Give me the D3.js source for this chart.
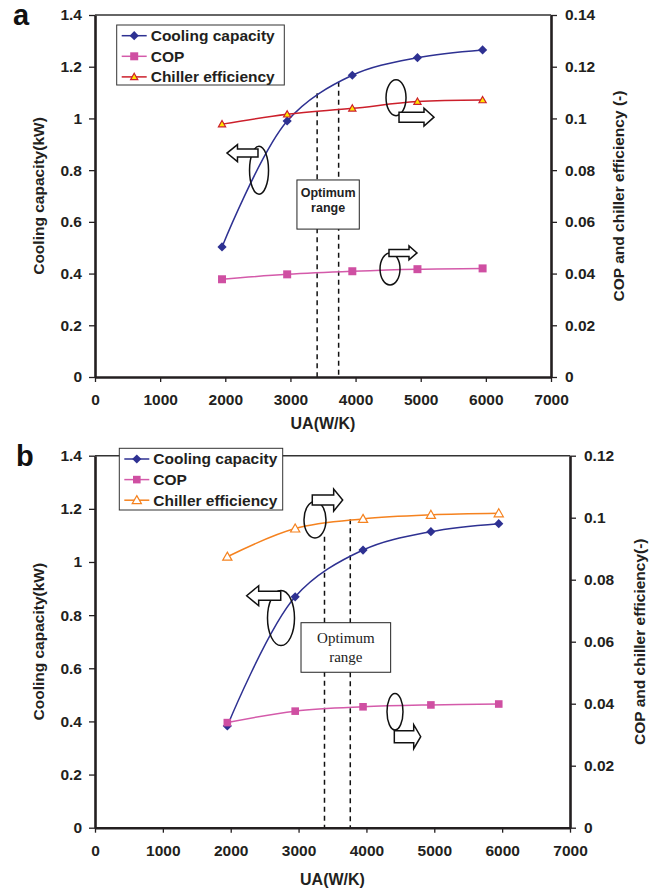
<!DOCTYPE html>
<html>
<head>
<meta charset="utf-8">
<script src="https://cdn.jsdelivr.net/npm/d3@7"></script>
<style>
  body { margin: 0; background: #fff; }
  text { font-family: "Liberation Sans", Arial, sans-serif; }
</style>
</head>
<body>
<svg id="chart" width="657" height="891"></svg>
<script>
// UA values (W/K) shared by both panels
const ua = [1950, 2950, 3950, 4950, 5950]

// panel a
const capA = [0.503, 0.99, 1.167, 1.235, 1.265]
const copA = [0.0378, 0.0397, 0.0409, 0.0417, 0.042]
const effA = [0.0978, 0.1016, 0.1039, 0.1065, 0.1071]

// panel b
const capB = [0.383, 0.869, 1.045, 1.114, 1.144]
const copB = [0.0339, 0.0376, 0.039, 0.0396, 0.0399]
const effB = [0.0874, 0.0965, 0.0996, 0.1009, 0.1014]

const xTicks = [0, 1000, 2000, 3000, 4000, 5000, 6000, 7000]
const leftTicks = [0, 0.2, 0.4, 0.6, 0.8, 1, 1.2, 1.4]
const rightTicksA = [0, 0.02, 0.04, 0.06, 0.08, 0.1, 0.12, 0.14]
const rightTicksB = [0, 0.02, 0.04, 0.06, 0.08, 0.1, 0.12]
const seriesNames = ["Cooling capacity", "COP", "Chiller efficiency"]

// optimum range markers: UA and top of dashed line (kW scale)
const optUA_A = [3410, 3740], optTop_A = [1.097, 1.142]
const optUA_B = [3382, 3762], optTop_B = [1.095, 1.161]

const svg = d3.select("#chart")
const fmt = d => String(+d.toFixed(2))
const axisColor = "#231f20"

const diamond = r => `M0,${-r}L${r},0L0,${r}L${-r},0Z`
const square = r => `M${-r},${-r}H${r}V${r}H${-r}Z`
const triangle = r => `M0,${-r}L${r},${r * 0.75}L${-r},${r * 0.75}Z`

function arrowPath(x0, x1, y, sh, hh, hl) {
  const dir = Math.sign(x1 - x0)
  const xb = x1 - dir * hl
  return `M${x0},${y - sh}L${xb},${y - sh}L${xb},${y - hh}L${x1},${y}` +
    `L${xb},${y + hh}L${xb},${y + sh}L${x0},${y + sh}Z`
}

function drawPanel(cfg) {
  const x = d3.scaleLinear().domain([0, 7000]).range([cfg.left, cfg.right])
  const y = d3.scaleLinear().domain([0, 1.4]).range([cfg.bottom, cfg.top])
  const y2 = d3.scaleLinear().domain([0, cfg.rightMax]).range([cfg.bottom, cfg.top])
  const g = svg.append("g")

  // panel letter
  g.append("text").attr("x", cfg.labelX).attr("y", cfg.labelY)
    .attr("font-size", 29).attr("font-weight", "bold").attr("fill", "#111")
    .text(cfg.label)

  // top frame line
  g.append("line").attr("x1", cfg.left).attr("x2", cfg.right)
    .attr("y1", cfg.top).attr("y2", cfg.top)
    .attr("stroke", "#333").attr("stroke-width", 1.5)

  // dashed optimum lines
  cfg.optUA.forEach((u, i) => {
    g.append("line").attr("x1", x(u)).attr("x2", x(u))
      .attr("y1", y(cfg.optTop[i])).attr("y2", cfg.bottom)
      .attr("stroke", "#111").attr("stroke-width", 1.5)
      .attr("stroke-dasharray", "5,4")
  })

  // optimum box
  const bx = cfg.box
  g.append("rect").attr("x", x(bx.x0)).attr("y", y(bx.y1))
    .attr("width", x(bx.x1) - x(bx.x0)).attr("height", y(bx.y0) - y(bx.y1))
    .attr("fill", "#fff").attr("stroke", "#222").attr("stroke-width", 1)
  bx.lines.forEach((t, i) => {
    g.append("text").attr("x", (x(bx.x0) + x(bx.x1)) / 2)
      .attr("y", bx.baselines[i])
      .attr("text-anchor", "middle")
      .attr("font-size", bx.fontSize).attr("font-weight", bx.weight)
      .style("font-family", bx.family).attr("fill", "#222")
      .text(t)
  })

  // axes
  const ax = g.append("g").attr("transform", `translate(0,${cfg.bottom})`)
    .call(d3.axisBottom(x).tickValues(xTicks).tickFormat(d3.format("d"))
      .tickSize(5).tickSizeOuter(0).tickPadding(12))
  const ay = g.append("g").attr("transform", `translate(${cfg.left},0)`)
    .call(d3.axisLeft(y).tickValues(leftTicks).tickFormat(fmt)
      .tickSize(6).tickSizeOuter(0).tickPadding(7))
  const ay2 = g.append("g").attr("transform", `translate(${cfg.right},0)`)
    .call(d3.axisRight(y2).tickValues(cfg.rightTicks).tickFormat(fmt)
      .tickSize(6).tickSizeOuter(0).tickPadding(8))
  ;[ax, ay, ay2].forEach(a => {
    a.select(".domain").attr("stroke", axisColor).attr("stroke-width", 2.6)
    a.selectAll(".tick line").attr("stroke", axisColor).attr("stroke-width", 1.3)
    a.selectAll(".tick text").attr("font-size", 15.5).attr("font-weight", "bold")
      .attr("fill", "#231f20").style("font-family", '"Liberation Sans", Arial, sans-serif')
  })

  // axis titles
  g.append("text").attr("x", (cfg.left + cfg.right) / 2).attr("y", cfg.xTitleY)
    .attr("text-anchor", "middle").attr("font-size", 16).attr("font-weight", "bold")
    .attr("fill", "#231f20").text("UA(W/K)")
  g.append("text")
    .attr("transform", `translate(${cfg.yTitleX},${(cfg.top + cfg.bottom) / 2}) rotate(-90)`)
    .attr("text-anchor", "middle").attr("font-size", 15.5).attr("font-weight", "bold")
    .attr("fill", "#231f20").text("Cooling capacity(kW)")
  g.append("text")
    .attr("transform", `translate(${cfg.y2TitleX},${(cfg.top + cfg.bottom) / 2}) rotate(-90)`)
    .attr("text-anchor", "middle").attr("font-size", 15.5).attr("font-weight", "bold")
    .attr("fill", "#231f20").text(cfg.y2Title)

  // series
  const series = [
    { vals: cfg.cap, scale: y, color: "#2e3192", width: 1.5, marker: diamond(4.6), fill: "#2e3192", stroke: "none" },
    { vals: cfg.cop, scale: y2, color: "#d45aaa", width: 1.5, marker: square(cfg.sq), fill: "#cf4fa2", stroke: "none" },
    { vals: cfg.eff, scale: y2, color: cfg.effColor, width: 1.5, marker: triangle(cfg.tri), fill: cfg.triFill, stroke: cfg.effColor }
  ]
  series.forEach(s => {
    const pts = ua.map((u, i) => [u, s.vals[i]])
    g.append("path").datum(pts)
      .attr("fill", "none").attr("stroke", s.color).attr("stroke-width", s.width)
      .attr("d", d3.line().x(d => x(d[0])).y(d => s.scale(d[1])).curve(d3.curveCatmullRom))
    g.selectAll(null).data(pts).enter().append("path")
      .attr("transform", d => `translate(${x(d[0])},${s.scale(d[1])})`)
      .attr("d", s.marker).attr("fill", s.fill).attr("stroke", s.stroke).attr("stroke-width", 1.2)
  })

  // ellipses and arrows
  cfg.ellipses.forEach(e => {
    g.append("ellipse").attr("cx", x(e.x)).attr("cy", y(e.y)).attr("rx", e.rx).attr("ry", e.ry)
      .attr("fill", "none").attr("stroke", "#111").attr("stroke-width", 1.5)
  })
  cfg.arrows.forEach(a => {
    g.append("path").attr("d", arrowPath(x(a.from), x(a.to), y(a.y), a.sh, a.hh, a.hl))
      .attr("fill", "#fff").attr("stroke", "#111").attr("stroke-width", 1.5)
      .attr("stroke-linejoin", "miter")
  })

  // legend
  const L = cfg.legend
  const lg = g.append("g")
  lg.append("rect").attr("x", L.x).attr("y", L.y).attr("width", L.w).attr("height", L.h)
    .attr("fill", "#fff").attr("stroke", "#333").attr("stroke-width", 1)
  series.forEach((s, i) => {
    const cy = L.y + 10.7 + i * 20.6
    lg.append("line").attr("x1", L.x + 5).attr("x2", L.x + 30).attr("y1", cy).attr("y2", cy)
      .attr("stroke", s.color).attr("stroke-width", s.width)
    lg.append("path").attr("transform", `translate(${L.x + 17.5},${cy})`)
      .attr("d", s.marker).attr("fill", s.fill).attr("stroke", s.stroke).attr("stroke-width", 1.2)
    lg.append("text").attr("x", L.x + 34).attr("y", cy + 5.4)
      .attr("font-size", 15.5).attr("font-weight", "bold").attr("fill", "#231f20")
      .text(seriesNames[i])
  })
}

drawPanel({
  label: "a", labelX: 13, labelY: 25,
  left: 95, right: 551, top: 15, bottom: 377,
  rightMax: 0.14, rightTicks: rightTicksA,
  cap: capA, cop: copA, eff: effA,
  effColor: "#cc1f2b", triFill: "#ffe600", sq: 4, tri: 3.6,
  xTitleY: 429, yTitleX: 44, y2TitleX: 624,
  y2Title: "COP and chiller efficiency (-)",
  optUA: optUA_A, optTop: optTop_A,
  box: { x0: 3100, x1: 4057, y0: 0.572, y1: 0.762, lines: ["Optimum", "range"],
         baselines: [196.5, 211.5], fontSize: 12.5, weight: "bold",
         family: '"Liberation Sans", Arial, sans-serif' },
  ellipses: [
    { x: 2518, y: 0.80, rx: 9.5, ry: 24 },
    { x: 4621, y: 1.080, rx: 10, ry: 18 },
    { x: 4529, y: 0.418, rx: 10, ry: 16 }
  ],
  arrows: [
    { from: 2502, to: 2026, y: 0.866, sh: 4, hh: 8.5, hl: 10.5 },
    { from: 4667, to: 5204, y: 1.005, sh: 5, hh: 9, hl: 10 },
    { from: 4513, to: 4943, y: 0.480, sh: 3.5, hh: 7, hl: 8 }
  ],
  legend: { x: 116.7, y: 25, w: 167.6, h: 60 }
})

drawPanel({
  label: "b", labelX: 16, labelY: 466,
  left: 95, right: 570, top: 455.7, bottom: 827.7,
  rightMax: 0.12, rightTicks: rightTicksB,
  cap: capB, cop: copB, eff: effB,
  effColor: "#f5821f", triFill: "#fff", sq: 3.8, tri: 4.6,
  xTitleY: 885, yTitleX: 44, y2TitleX: 645,
  y2Title: "COP and chiller efficiency(-)",
  optUA: optUA_B, optTop: optTop_B,
  box: { x0: 3036, x1: 4357, y0: 0.585, y1: 0.7715, lines: ["Optimum", "range"],
         baselines: [643, 662], fontSize: 15, weight: "normal",
         family: '"Liberation Serif", "Times New Roman", serif' },
  ellipses: [
    { x: 2741, y: 0.789, rx: 13.5, ry: 27.5 },
    { x: 3242, y: 1.159, rx: 11, ry: 18.3 },
    { x: 4421, y: 0.4366, rx: 8, ry: 18.3 }
  ],
  arrows: [
    { from: 2737, to: 2235, y: 0.873, sh: 4.5, hh: 10, hl: 12 },
    { from: 3202, to: 3650, y: 1.233, sh: 5, hh: 11, hl: 9 },
    { from: 4411, to: 4800, y: 0.3425, sh: 6, hh: 12, hl: 7 }
  ],
  legend: { x: 119.3, y: 448.3, w: 163.4, h: 61.7 }
})
</script>
</body>
</html>
